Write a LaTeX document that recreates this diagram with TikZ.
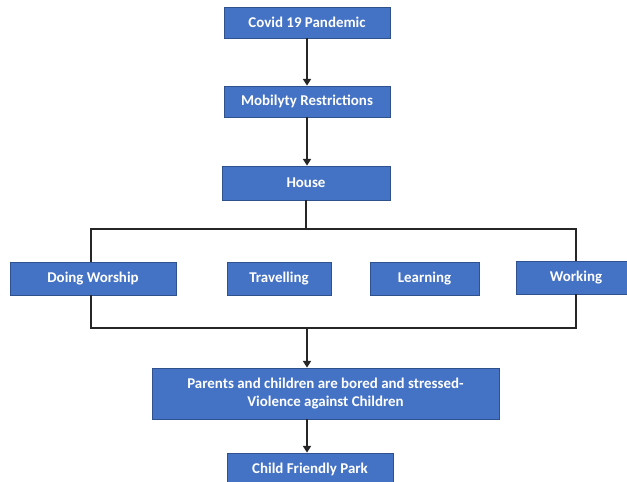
\documentclass[tikz,border=0pt]{standalone}
\usepackage{fontspec}
\setmainfont{Carlito}
\usetikzlibrary{arrows.meta}
\definecolor{boxblue}{HTML}{4472C4}
\definecolor{boxedge}{HTML}{2F528F}
\definecolor{linegray}{HTML}{262626}
\begin{document}
\begin{tikzpicture}[x=0.75pt,y=-0.75pt,
  box/.style={draw=boxedge, line width=0.6pt, fill=boxblue, text=white,
    font=\bfseries\fontsize{11.2}{14}\selectfont, inner sep=0pt, align=center},
  conn/.style={draw=linegray, line width=1.2pt},
  arr/.style={conn, -{Triangle[length=5pt,width=6pt]}}]
\useasboundingbox (0,0) rectangle (627,481);
\fill[white] (0,0) rectangle (627,481);
\node[box, minimum width=124.5pt, minimum height=23.25pt] (covid) at (307,22.5) {Covid 19 Pandemic};
\node[box, minimum width=124.5pt, minimum height=23.25pt] (mob) at (307,101.5) {Mobilyty Restrictions};
\node[box, minimum width=126pt, minimum height=25.5pt] (house) at (306,183) {House};
\node[box, minimum width=124.5pt, minimum height=24.75pt] (worship) at (93,278.5) {Doing Worship};
\node[box, minimum width=78pt, minimum height=24.75pt] (travel) at (279,278.5) {Travelling};
\node[box, minimum width=81.75pt, minimum height=24.75pt] (learn) at (424.5,278.5) {Learning};
\node[box, minimum width=90pt, minimum height=24.75pt] (work) at (576,277.5) {Working};
\node[box, minimum width=260.25pt, minimum height=38.25pt] (parents) at (325.5,393.5) {Parents and children are bored and stressed-\\Violence against Children};
\node[box, minimum width=124.5pt, minimum height=24pt] (park) at (310,469) {Child Friendly Park};
\coordinate (top) at (306,229);
\coordinate (tl) at (91,229);
\coordinate (tr) at (576,229);
\coordinate (bl) at (91,328);
\coordinate (br) at (576,328);
\coordinate (mid) at (307,328);
\draw[arr] (covid.south) -- (mob.north);
\draw[arr] (mob.south) -- (mob.south |- house.north);
\draw[conn] (house.south) -- (top);
\draw[conn] (tl |- worship.north) -- (tl) -- (tr) -- (tr |- work.north);
\draw[conn] (bl |- worship.south) -- (bl) -- (br) -- (br |- work.south);
\draw[arr] (mid) -- (mid |- parents.north);
\draw[arr] (parents.south -| mid) -- (park.north -| mid);
\end{tikzpicture}
\end{document}
